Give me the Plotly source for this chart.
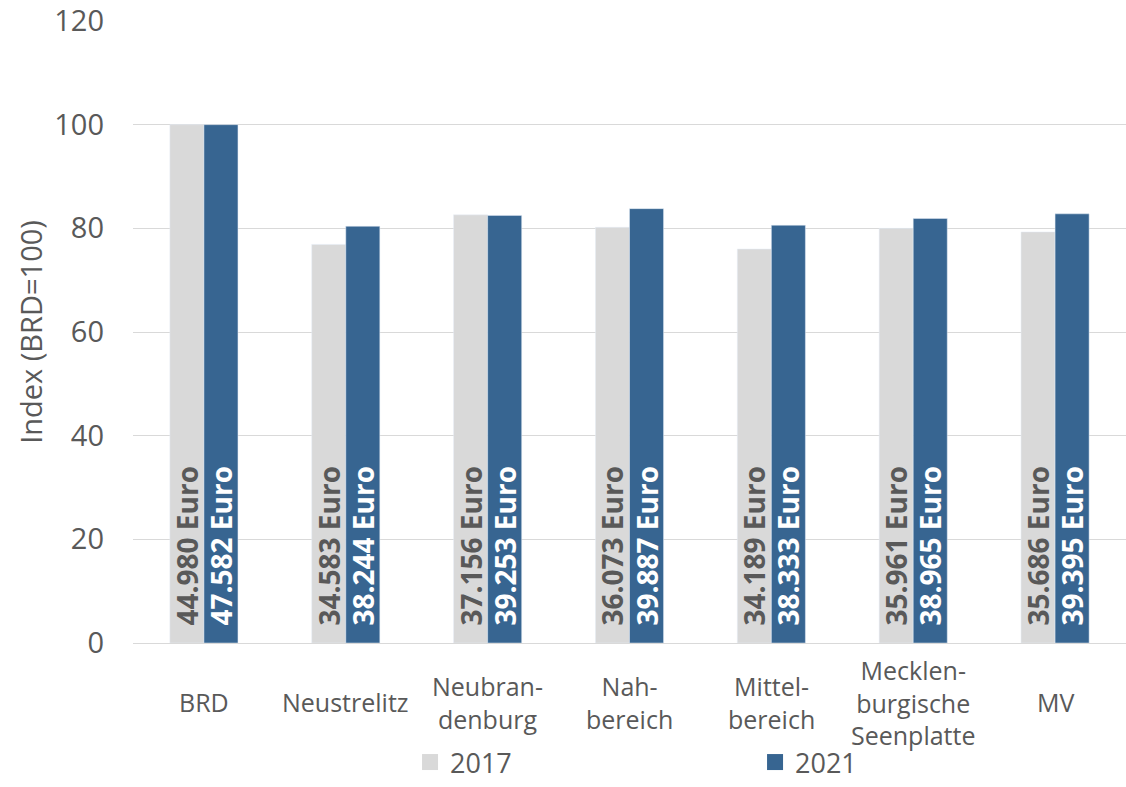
import plotly.graph_objects as go

categories = ["BRD", "Neustrelitz", "Neubran-<br>denburg", "Nah-<br>bereich",
              "Mittel-<br>bereich", "Mecklen-<br>burgische<br>Seenplatte", "MV"]
index_2017 = [100.0, 76.9, 82.6, 80.2, 76.0, 80.0, 79.3]
index_2021 = [100.0, 80.4, 82.5, 83.8, 80.6, 81.9, 82.8]
euro_2017 = [44980, 34583, 37156, 36073, 34189, 35961, 35686]
euro_2021 = [47582, 38244, 39253, 39887, 38333, 38965, 39395]
y_ticks = [0, 20, 40, 60, 80, 100, 120]

FONT = "Open Sans"
GREY_TXT = "#595959"
C2017 = "#d9d9d9"
C2021 = "#376591"


def fmt(v):
    return "\u00a0\u00a0" + f"{v:,}".replace(",", ".") + " Euro"


fig = go.Figure()
fig.add_trace(go.Bar(
    name="2017", x=categories, y=index_2017, marker_color=C2017,
    text=[fmt(v) for v in euro_2017], textposition="inside",
    insidetextanchor="start", textangle=-90, constraintext="none",
    textfont=dict(family=FONT, size=28, color=GREY_TXT, weight="bold"),
    hoverinfo="skip", showlegend=False,
))
fig.add_trace(go.Bar(
    name="2021", x=categories, y=index_2021, marker_color=C2021,
    text=[fmt(v) for v in euro_2021], textposition="inside",
    insidetextanchor="start", textangle=-90, constraintext="none",
    textfont=dict(family=FONT, size=28, color="white", weight="bold"),
    hoverinfo="skip", showlegend=False,
))
# legend entries (square swatches)
for name, col in (("2017", C2017), ("2021", C2021)):
    fig.add_trace(go.Scatter(x=[None], y=[None], mode="markers", name=name,
                             marker=dict(symbol="square", size=16, color=col)))

for c in categories:
    fig.add_annotation(x=c, xref="x", y=0, yref="paper", yshift=-59,
                       yanchor="middle", xanchor="center", showarrow=False,
                       text=c, align="center",
                       font=dict(family=FONT, size=25, color=GREY_TXT))

fig.update_layout(
    width=1126, height=787,
    margin=dict(l=133, r=0, t=21, b=144),
    paper_bgcolor="white", plot_bgcolor="white",
    barmode="group", bargap=0.52, bargroupgap=0,
    font=dict(family=FONT, color=GREY_TXT),
    showlegend=True,
    legend=dict(orientation="h", x=0.279, xanchor="left", xref="paper",
                y=0.0, yref="container", yanchor="bottom",
                entrywidth=300, font=dict(family=FONT, size=27, color=GREY_TXT),
                itemsizing="trace", tracegroupgap=0),
)
fig.update_xaxes(showticklabels=False, showline=True, linecolor="#d9d9d9",
                 linewidth=1, ticks="")
fig.update_yaxes(range=[0, 120], tickvals=y_ticks, showgrid=True, gridcolor="#d9d9d9",
                 gridwidth=1, zeroline=False, showline=False,
                 tickfont=dict(family=FONT, size=29, color=GREY_TXT),
                 ticklabelstandoff=28,
                 title=dict(text="Index (BRD=100)", standoff=3,
                            font=dict(family=FONT, size=29, color=GREY_TXT)))

fig.write_html("out.html")
